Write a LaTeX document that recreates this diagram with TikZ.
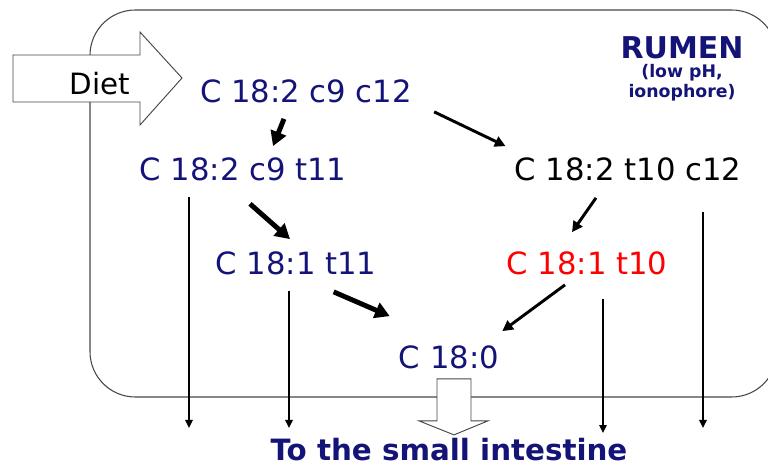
\documentclass[tikz,border=0pt]{standalone}
\usepackage{fontspec}
\setmainfont{DejaVu Sans}
\usetikzlibrary{arrows.meta,calc}

\definecolor{rumenblue}{RGB}{20,20,120}
\definecolor{framegray}{RGB}{70,70,70}

\begin{document}
\begin{tikzpicture}[
            x=0.75pt, y=-0.75pt,
            acid/.style={inner sep=0pt, text=rumenblue, font=\fontsize{23}{27}\selectfont},
            title/.style={inner sep=0pt, text=rumenblue, font=\bfseries\fontsize{22.5}{26}\selectfont},
            fat/.style={line width=3.7pt, -{Triangle[length=11pt,width=12pt]}},
            mid/.style={line width=2.2pt, -{Triangle[length=8pt,width=8pt]}},
            exit/.style={line width=1.4pt, -{Triangle[length=6pt,width=5.5pt]}},
            hollow/.style={draw=framegray, line width=0.7pt, fill=white}
        ]
        \useasboundingbox (0,0) rectangle (768,470);

        % rumen
        \begin{scope}
            \clip (0,0) rectangle (768,470);
            \draw[framegray, line width=0.8pt, rounded corners=34pt] (90,10) rectangle (777,397);
        \end{scope}
        \node[title] (rumen) at (682,48) {RUMEN};
        \node[inner sep=0pt, text=rumenblue, align=center,
              font=\bfseries\fontsize{13}{15}\selectfont] (cond) at (682,83) {(low pH,\\ionophore)};

        % diet
        \draw[hollow] (13,55) -- (140,55) -- (140,32) -- (182,78) -- (140,125) -- (140,102) -- (13,102) -- cycle;
        \node[inner sep=0pt, font=\fontsize{22}{26}\selectfont] (diet) at (100,84) {Diet};

        % nodes
        \node[acid] (lino) at (306,91) {C 18:2 c9 c12};
        \node[acid] (rumenic) at (243,169) {C 18:2 c9 t11};
        \node[acid, text=black] (tencla) at (628,169) {C 18:2 t10 c12};
        \node[acid] (vaccenic) at (296,263) {C 18:1 t11};
        \node[acid, text=red] (trans) at (587,263) {C 18:1 t10};
        \node[acid] (stearic) at (449,357) {C 18:0};
        \node[title, font=\bfseries\fontsize{22}{26}\selectfont] (gut) at (449,450) {To the small intestine};

        \coordinate (out1) at (189,428);
        \coordinate (out2) at (289,428);
        \coordinate (out3) at (603,433);
        \coordinate (out4) at (703,428);

        % arrows
        \draw[fat] ($(lino.south)+(-22,16)$) -- ($(rumenic.north)+(30,-11)$);
        \draw[mid] ($(lino.south east)+(22,9)$) -- ($(tencla.north west)+(-9,-11)$);
        \draw[fat] ($(rumenic.south)+(7,23)$) -- ($(vaccenic.north)+(-6,-12)$);
        \draw[mid] ($(tencla.south)+(-32,17)$) -- ($(trans.north)+(-15,-19)$);
        \draw[fat] ($(vaccenic.south east)+(-43,17)$) -- ($(stearic.north west)+(-9,-29)$);
        \draw[mid] ($(trans.south)+(-22,10)$) -- ($(stearic.north east)+(3,-14)$);

        \draw[exit] ($(rumenic.south)+(-54,16)$) -- (out1);
        \draw[exit] ($(vaccenic.south)+(-7,16)$) -- (out2);
        \draw[exit] ($(trans.south)+(16,24)$) -- (out3);
        \draw[exit] ($(tencla.south)+(75,31)$) -- (out4);

        \draw[hollow] ($(stearic.south)+(-12,10)$) -- ++(34,0) -- ++(0,42) -- ++(17,0)
            -- ++(-34,14) -- ++(-35,-14) -- ++(18,0) -- cycle;

    \end{tikzpicture}
\end{document}
